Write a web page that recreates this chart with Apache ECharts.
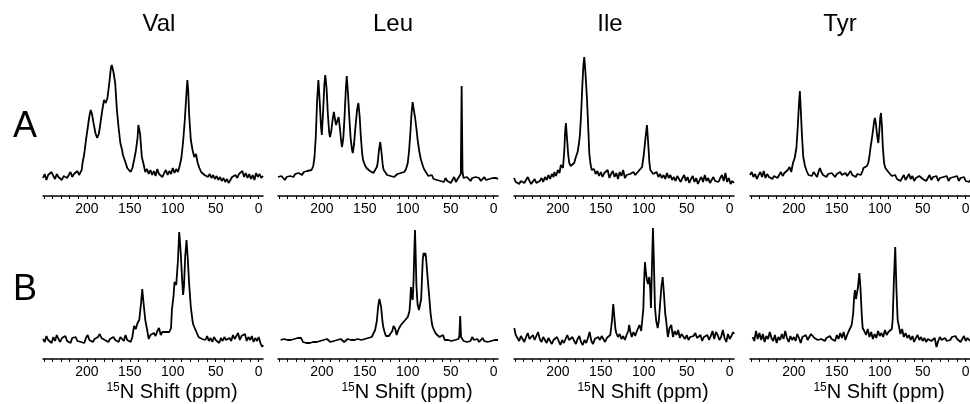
<!DOCTYPE html>
<html>
<head>
<meta charset="utf-8">
<script src="https://cdn.jsdelivr.net/npm/echarts@6/dist/echarts.min.js"></script>
<style>
  html, body { margin: 0; padding: 0; background: #fff; }
  #spectra { width: 970px; height: 404px; }
</style>
</head>
<body>
<div id="spectra"></div>
<script>
// panel titles and row letters
var residues = ['Val', 'Leu', 'Ile', 'Tyr'];
var rows = ['A', 'B'];

// axis ticks (ppm)
var tickValues = [0, 10, 20, 30, 40, 50, 60, 70, 80, 90, 100, 110, 120, 130, 140, 150, 160, 170, 180, 190, 200, 210, 220, 230, 240, 250];
var tickLabels = [0, 50, 100, 150, 200];

// spectra: [15N shift (ppm), intensity above axis]
var valA = [[251,18],[249,22],[247,16],[245,21],[243,19],[241,24],[239,20],[237,17],[235,22],[233,19],[231,21],[229,16],[227,20],[225,22],[223,18],[221,21],[219,24],[217,19],[215,22],[213,20],[211,25],[209,21],[207,23],[206,26],[205,33],[203,42],[201,56],[199,68],[197,80],[195.5,86],[194,82],[192,72],[190,63],[188,58],[186,62],[184,74],[182,86],[180,96],[178,93],[176,98],[174,112],[172,128],[171,131],[169,124],[167,113],[165,86],[163,68],[161,53],[159,46],[158,41],[156,42],[154,31],[153,28],[151,26],[149,24],[147,28],[145,36],[143,45],[141,58],[140,71],[138,62],[136,39],[134,32],[132,24],[130,27],[128,22],[126,26],[124,21],[122,25],[120,20],[118,27],[116,22],[114,24],[112,19],[110,23],[108,26],[106,21],[104,25],[102,22],[100,28],[98,23],[96,27],[94,24],[92,30],[90,38],[88,54],[86,76],[84,104],[83,116],[82,105],[81,82],[79,56],[77,46],[75,39],[73,42],[71,33],[69,28],[67,24],[65,26],[63,21],[61,23],[59,19],[57,22],[55,18],[53,21],[51,17],[49,20],[47,16],[45,19],[43,15],[41,18],[39,14],[37,17],[35,13],[33,16],[31,19],[29,17],[27,21],[25,18],[23,22],[21,20],[19,25],[17,19],[15,23],[13,18],[11,22],[9,17],[7,21],[5,16],[3,23],[1,19],[-1,22],[-3,18],[-5,20]];

var leuA = [[251,19],[249,17],[247,20],[245,18],[243,16],[241,19],[239,17],[237,20],[235,21],[233,19],[231,22],[229,21],[227,23],[225,22],[223,21],[221,24],[219,23],[217,25],[215,24],[212,26],[210,30],[208.5,39],[207,60],[205.5,95],[204,116],[202.5,95],[201,70],[200,61],[198.5,85],[197,112],[196,121],[194.5,108],[193,82],[191.5,64],[190.5,59],[189,65],[187.5,76],[186,84],[184.5,76],[183.5,71],[182,75],[180.5,79],[179,68],[177.5,55],[176.5,49],[175,58],[173.5,80],[172,108],[171,120],[169.5,102],[168,78],[166.5,58],[165,47],[164,43],[162.5,52],[161,68],[159,86],[157.5,93],[156,80],[154.5,58],[153,42],[152,36],[150,31],[148,28],[146.5,26],[144,25],[142,27],[140,23],[138,24],[136,29],[135,33],[133.5,46],[132,54],[130.5,43],[129,30],[128,26],[126,24],[124,21],[122,23],[120,20],[118,22],[116,19],[114,21],[112,22],[110,20],[108,23],[106,21],[104,24],[102,27],[100,33],[98.5,45],[97,63],[95.5,84],[94.3,94],[93,86],[91.6,79],[90,68],[88.5,56],[86.5,44],[84.6,36],[82,29],[80.5,26],[78.8,24],[76,20],[74,18],[72,21],[70,17],[68,19],[66,16],[64,18],[62,15],[60,17],[58,14],[56,18],[54,15],[52,17],[50,13],[48,16],[46,19],[44,14],[42,17],[40,18],[38.3,22],[37.3,110],[36.3,24],[35,18],[33,16],[31,19],[29,17],[27,15],[25,18],[23,16],[21,19],[19,17],[17,18],[15,15],[13,17],[11,19],[9,16],[7,18],[5,17],[3,15],[1,18],[-1,16],[-3,18],[-5,17]];

var ileA = [[251,18],[249,14],[247,16],[245,12],[243,15],[241,17],[239,13],[237,16],[235,19],[233,15],[231,12],[229,14],[227,17],[225,13],[223,11],[221,15],[219,18],[217,14],[215,19],[213,16],[211,21],[209,17],[207,22],[205,19],[204,24],[202,20],[200,26],[198,23],[196.5,31],[194,28],[192.5,45],[191.5,64],[190.6,73],[189.5,60],[188,42],[186.7,33],[185,30],[183,30],[181,33],[179,39],[177,44],[175.5,52],[174.3,61],[173,80],[171.5,110],[170.3,130],[169.2,139],[168,125],[166,96],[164.5,66],[163.4,43],[162,32],[160.5,26],[159.5,24],[158,27],[156,22],[154,25],[152,20],[150,24],[148,19],[146,23],[144,21],[142,26],[140,18],[138,22],[136,25],[134,19],[132,23],[130,17],[128,24],[126,20],[124,26],[122,18],[120,21],[118,19],[116,22],[114,20],[112,24],[110,21],[108,23],[106,25],[104,24],[102,29],[100,41],[98,58],[96.3,71],[95,55],[93.5,34],[92.4,26],[91,24],[89,22],[87,20],[85,24],[83,19],[81,22],[79,18],[77,21],[75,17],[73,23],[71,18],[69,21],[67,16],[65,19],[63,15],[61,20],[59,17],[57,14],[55,18],[53,21],[51,15],[49,19],[47,13],[45,17],[43,20],[41,14],[39,18],[37,12],[35,16],[33,19],[31,14],[29,21],[27,15],[25,18],[23,13],[21,16],[19,19],[17,15],[15,17],[13,14],[11,18],[9,21],[7,15],[5,23],[3,14],[1,18],[-1,12],[-3,15],[-5,13]];

var tyrA = [[251,21],[249,24],[247,19],[245,22],[243,17],[241,21],[239,24],[237,19],[235,25],[233,18],[231,22],[229,19],[227,21],[225,17],[223,20],[221,22],[219,18],[217,21],[215,24],[213,20],[211,23],[209,21],[207,26],[205,29],[203,24],[201,33],[199,38],[197,48],[195.5,68],[194,92],[193,105],[192,88],[190.5,60],[189,39],[187,30],[185,25],[183,21],[181,23],[179,20],[177,24],[175,22],[173,19],[171,25],[169.6,28],[168,24],[166,21],[164,23],[162,19],[160,22],[158,20],[156,23],[154,21],[152,19],[150,22],[148,20],[146,24],[144,21],[142,19],[140,23],[138,20],[136,22],[134,25],[132,21],[130,23],[128,19],[126,22],[124,24],[122,21],[120,25],[119,28],[117,26],[115,30],[113.4,33],[112,40],[110.5,50],[109.4,56],[108,65],[106.5,75],[105.6,78],[104.5,72],[103,60],[101.7,53],[100.5,65],[99.5,78],[98.6,83],[97.5,70],[96.5,50],[95,33],[93.5,28],[92,26],[90,24],[88,22],[86,20],[84,18],[82,21],[80,17],[78,19],[76,15],[74,18],[72,21],[70,16],[68,19],[66,22],[64,17],[62,20],[60,15],[58,18],[56,16],[54,20],[52,22],[50,17],[48,19],[46,15],[44,18],[42,21],[40,16],[38,19],[36,17],[34,20],[32,15],[30,18],[28,16],[26,19],[24,17],[22,20],[20,15],[18,18],[16,16],[14,19],[12,17],[10,20],[8,15],[6,18],[4,16],[2,19],[0,15],[-2,17],[-4,14],[-5,16]];

var valB = [[251,20],[249,17],[247,23],[245,19],[243,21],[241,16],[239,22],[237,18],[235,24],[233,20],[231,17],[229,21],[227,19],[225,23],[223,18],[221,20],[219,16],[217,21],[215,19],[213,22],[211,18],[209,20],[207,17],[205,19],[203,16],[201,21],[199,24],[197,19],[195,21],[193,17],[191,20],[189,18],[187,22],[185,25],[183,21],[181,23],[179,19],[177,21],[175,17],[173,20],[171,18],[169,22],[167,19],[165,21],[163,17],[161,22],[159,20],[157,18],[155,24],[153,19],[151,21],[149,17],[147,22],[146,28],[145,33],[143,30],[141,36],[139,39],[137,55],[135.5,70],[134,56],[132,39],[130,30],[128,20],[126,24],[124,22],[122,26],[120,23],[118,28],[116,31],[114,24],[112,27],[110,25],[108,27],[106,29],[104,27],[102,31],[101,49],[99,64],[98,77],[96,74],[94,98],[92.5,127],[91,110],[89,78],[88,64],[87,72],[85.5,103],[84,119],[82.5,100],[81,76],[79,52],[77,38],[76,34],[74,30],[72,26],[70,22],[68,24],[66,20],[64,22],[62,19],[60,23],[58,18],[56,21],[54,17],[52,22],[50,19],[48,20],[46,16],[44,21],[42,18],[40,22],[38,19],[36,17],[34,21],[32,18],[30,24],[28,20],[26,22],[24,26],[22,19],[20,23],[18,21],[16,25],[14,18],[12,22],[10,19],[8,23],[6,17],[4,21],[2,18],[0,22],[-2,16],[-4,12],[-5,14]];

var leuB = [[248,19],[246,17],[244,20],[242,18],[240,19],[238,17],[236,19],[234,18],[232,20],[230,19],[228,21],[226,22],[224,21],[222,17],[220,15],[218,16],[216,17],[214,16],[212,18],[210,17],[208,18],[206,17],[204,19],[202,18],[200,17],[198,19],[196,18],[194,20],[192,18],[190,17],[188,19],[186,18],[184,17],[182,19],[180,18],[178,20],[176,18],[174,17],[172,19],[170,20],[168,18],[166,19],[164,17],[162,19],[160,18],[158,20],[156,18],[154,19],[152,17],[150,20],[148,19],[146,21],[144,20],[142,22],[140,24],[138,29],[136,38],[134.5,52],[133,60],[132.4,62],[131,52],[129.5,38],[128.5,32],[127,27],[125.4,23],[124,22],[122,23],[120,24],[118,28],[116.5,33],[115.7,35],[114.5,30],[113,24],[111.5,28],[110,31],[108,34],[106,36],[104,38],[102,40],[100,42],[98,48],[97,60],[96.3,72],[95.3,64],[94.3,59],[93.3,78],[92.3,110],[91.6,129],[90.8,105],[90,75],[89,60],[88.5,54],[87,49],[85.4,47],[84.4,60],[83.4,82],[82.5,100],[81.5,106],[80.5,103],[79.6,106],[78.8,102],[77.5,88],[76,72],[75,62],[73.5,46],[72,36],[71,32],[69,28],[67,25],[65,23],[63,22],[61,20],[59,24],[57,19],[55,20],[53,19],[51,21],[49,18],[47,20],[45,19],[43,18],[41,20],[40,23],[39,43],[38,22],[37,20],[35,18],[33,19],[31,17],[29,19],[27,18],[25,22],[23,19],[21,18],[19,20],[17,17],[15,19],[13,21],[11,18],[9,19],[7,17],[5,19],[3,18],[1,20],[-1,19],[-3,17],[-5,19]];

var ileB = [[250.7,31],[249,24],[247,21],[245,18],[243,23],[241,20],[239,17],[237,22],[235,26],[233,20],[231,18],[229,24],[227,19],[225,21],[223,27],[221,20],[219,17],[217,22],[215,19],[213,16],[211,21],[209,18],[207,15],[205,19],[203,17],[201,22],[199,18],[197,14],[195,19],[193,16],[191,20],[189,24],[187,19],[185,17],[183,22],[181,18],[179,15],[177,20],[175,23],[173,17],[171,14],[169,19],[167,16],[165,21],[163,27],[161,18],[159,15],[157,20],[155,18],[153,22],[151,19],[149,23],[147,20],[145,17],[143,21],[141,19],[139,24],[138,26],[137,38],[136,50],[135.5,55],[134.5,45],[133,30],[132,26],[130,22],[128,25],[126,20],[124,23],[122,19],[120,24],[118,28],[117,34],[115.5,27],[114,22],[112,27],[110,23],[108,28],[106,30],[105,34],[103,28],[101.5,27],[100.5,50],[99.5,80],[98.6,97],[97.5,86],[96.3,79],[95,75],[93.6,82],[92.5,70],[91.6,51],[90.5,92],[89.3,131],[88.3,100],[87,52],[85.5,38],[83.8,31],[82.5,38],[81,55],[79.5,72],[78,82],[76.5,65],[75,45],[74,39],[72,22],[70,31],[68,34],[66,22],[64,28],[62,24],[60,29],[58,21],[56,25],[54,23],[52,20],[50,24],[48,19],[46,22],[44,20],[42,23],[40,26],[38,21],[36,19],[34,24],[32,18],[30,22],[28,20],[26,24],[24,19],[22,23],[20,28],[18,20],[16,27],[14,24],[12,19],[10,22],[8,29],[6,21],[4,17],[2,25],[0,20],[-2,23],[-4,27],[-5,25]];

var tyrB = [[248,22],[246,18],[244,28],[242,20],[240,26],[238,19],[236,25],[234,17],[232,23],[230,20],[228,27],[226,21],[224,18],[222,24],[220,16],[218,22],[216,19],[214,25],[212,20],[210,28],[208,21],[206,17],[204,23],[202,19],[200,22],[198,18],[196,25],[194,21],[192,16],[190,22],[188,20],[186,24],[184,19],[182,22],[180,25],[178,23],[176,21],[174,22],[172,19],[170,21],[168,20],[166,22],[164,18],[162,21],[160,19],[158,23],[156,20],[154,22],[152,18],[150,24],[148,20],[146,26],[144,21],[142,27],[140,19],[138,24],[136,28],[134,26],[132.7,34],[131,45],[129.8,62],[128.9,69],[127.7,60],[126.5,59],[125.3,72],[123.8,86],[122.5,72],[121,45],[119.9,31],[118,28],[116,24],[114,30],[112,22],[110,27],[108,20],[106,25],[104,21],[102,28],[100,23],[98,26],[96,22],[94,29],[92,24],[90,27],[88,25],[86,30],[85,39],[83.5,80],[82,112],[80.6,70],[79.2,39],[78,34],[76,25],[74,30],[72,22],[70,26],[68,21],[66,24],[64,19],[62,23],[60,17],[58,21],[56,24],[54,19],[52,22],[50,18],[48,21],[46,17],[44,20],[42,22],[40,18],[38,16],[36,21],[34,12],[32,18],[30,22],[28,19],[26,17],[24,21],[22,18],[20,20],[18,19],[16,22],[14,21],[12,23],[10,20],[8,22],[6,17],[4,20],[2,23],[0,18],[-2,21],[-4,19],[-5,18]];

var spectra = [[valA, leuA, ileA, tyrA], [valB, leuB, ileB, tyrB]];

// layout
var FONT = '"Liberation Sans", Arial, Helvetica, sans-serif';
var panelLeft = [43, 278, 514, 750];
var panelWidth = 220;
var rowTop = [36, 199];
var rowHeight = 160;
var titleX = [159, 393, 610, 840];

function render(divId) {
    var dom = document.getElementById(divId);
    var myChart = echarts.init(dom, null, {renderer: 'canvas'});

    var grid = [], xAxis = [], yAxis = [], series = [];

    rows.forEach(function (row, r) {
        residues.forEach(function (res, c) {
            var idx = grid.length;
            grid.push({
                left: panelLeft[c],
                top: rowTop[r],
                width: panelWidth,
                height: rowHeight,
                containLabel: false,
                outerBoundsMode: 'none'
            });
            var ax = {
                gridIndex: idx,
                type: 'value',
                inverse: true,
                min: -5,
                max: 251,
                axisLine: {lineStyle: {color: '#000', width: 1.5}},
                axisTick: {
                    show: true,
                    customValues: tickValues,
                    length: 3,
                    lineStyle: {color: '#000', width: 1}
                },
                axisLabel: {
                    customValues: tickLabels,
                    color: '#000',
                    fontSize: 14,
                    fontFamily: FONT,
                    margin: 6
                },
                splitLine: {show: false}
            };
            if (r === 1) {
                // 15N Shift (ppm) under the bottom row, sits a bit right of centre
                ax.name = '{sup|15}{main|N Shift (ppm)}';
                ax.nameLocation = 'middle';
                ax.nameGap = 23;
                ax.nameTextStyle = {
                    padding: [0, 0, 0, 38],
                    rich: {
                        sup: {fontSize: 12, fontFamily: FONT, color: '#000', verticalAlign: 'top', lineHeight: 20},
                        main: {fontSize: 20, fontFamily: FONT, color: '#000', lineHeight: 20}
                    }
                };
            }
            xAxis.push(ax);
            yAxis.push({gridIndex: idx, type: 'value', min: 0, max: 160, show: false});
            series.push({
                name: res + ' ' + row,
                type: 'line',
                xAxisIndex: idx,
                yAxisIndex: idx,
                data: spectra[r][c],
                symbol: 'none',
                showSymbol: false,
                clip: true,
                lineStyle: {color: '#000', width: 1.8}
            });
        });
    });

    var graphic = [];
    residues.forEach(function (res, c) {
        graphic.push({
            type: 'text', x: titleX[c], y: 24,
            style: {text: res, font: '24px ' + FONT, fill: '#000',
                textAlign: 'center', textVerticalAlign: 'middle', verticalAlign: 'middle'}
        });
    });
    graphic.push({
        type: 'text', x: 25, y: 127,
        style: {text: rows[0], font: '36px ' + FONT, fill: '#000',
            textAlign: 'center', textVerticalAlign: 'middle', verticalAlign: 'middle'}
    });
    graphic.push({
        type: 'text', x: 25, y: 290,
        style: {text: rows[1], font: '36px ' + FONT, fill: '#000',
            textAlign: 'center', textVerticalAlign: 'middle', verticalAlign: 'middle'}
    });

    var option = {
        animation: false,
        backgroundColor: '#fff',
        grid: grid,
        xAxis: xAxis,
        yAxis: yAxis,
        series: series,
        graphic: graphic
    };
    myChart.setOption(option);
}

render('spectra');
</script>
</body>
</html>
